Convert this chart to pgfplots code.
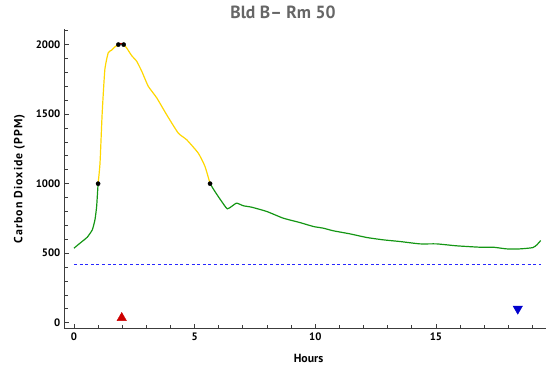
\documentclass[border=0pt]{standalone}
\usepackage{pgfplots}
\pgfplotsset{compat=1.18}
\usepackage{fontspec}
\setmainfont{PT Sans}
\newfontfamily\ylfont[LetterSpace=9]{PT Sans}
\definecolor{cgreen}{RGB}{20,150,20}
\definecolor{cyellow}{RGB}{255,215,0}
\definecolor{cblue}{RGB}{40,40,255}
\definecolor{cred}{RGB}{205,0,0}
\definecolor{cdblue}{RGB}{0,0,205}
\definecolor{axgray}{RGB}{60,60,60}
\definecolor{titlegray}{RGB}{102,102,102}
\begin{document}
\begin{tikzpicture}[x=1pt,y=1pt]
\useasboundingbox (0,0) rectangle (546,367);
\begin{axis}[
  at={(64.3pt,38.7pt)}, anchor=south west,
  scale only axis, width=481.7pt, height=299pt,
  xmin=-0.4, xmax=19.56, ymin=-40, ymax=2110,
  axis lines=left, axis line style={-, axgray, line width=1pt},
  xtick={0,5,10,15}, minor xtick={1,2,3,4,6,7,8,9,11,12,13,14,16,17,18,19},
  ytick={0,500,1000,1500,2000}, minor ytick={100,200,300,400,600,700,800,900,1100,1200,1300,1400,1600,1700,1800,1900,2100},
  tick align=inside, major tick length=4.5pt, minor tick length=3.5pt,
  tick style={axgray, line width=0.8pt},
  /pgf/number format/assume math mode=true,
  /pgf/number format/1000 sep={},
  ticklabel style={font=\bfseries\fontsize{10.8}{12}\selectfont, black},
  xticklabel style={yshift=-1pt},
  yticklabel style={xshift=-0.5pt},
  xlabel={Hours}, ylabel={Carbon Dioxide (PPM)},
  xlabel style={at={(axis description cs:0.507,-0.1)}, anchor=center, font=\bfseries\fontsize{11.8}{13}\selectfont},
  ylabel style={at={(axis description cs:-0.093,0.5)}, anchor=center, rotate=0, font=\ylfont\bfseries\fontsize{11.8}{13}\selectfont},
  title={Bld B-- Rm 50},
  title style={at={(axis description cs:0.454,1.035)}, anchor=center, font=\bfseries\fontsize{17.6}{19}\selectfont, text=titlegray},
  clip=false,
]
% threshold line
\addplot[cblue, line width=1.1pt, dash pattern=on 3pt off 2.6pt] coordinates {(0,421) (19.34,421)};
% green start
\addplot[cgreen, line width=1.2pt, smooth, tension=0.3] coordinates {
(0,536) (0.25,572) (0.55,615) (0.76,668) (0.87,740) (0.94,836) (1.0,1000)};
% yellow
\addplot[cyellow, line width=1.2pt, smooth, tension=0.3] coordinates {
(1.0,1000) (1.08,1148) (1.17,1508) (1.28,1820) (1.42,1941) (1.56,1960) (1.70,1984) (1.84,2000)};
\addplot[cred, line width=1.2pt] coordinates {(1.84,2000) (1.95,2008) (2.06,2000)};
\addplot[cyellow, line width=1.2pt, smooth, tension=0.3] coordinates {
(2.06,2000) (2.18,1977) (2.39,1921) (2.60,1880) (2.81,1808) (3.08,1700) (3.43,1617) (3.84,1496) (4.32,1364) (4.67,1316) (5.15,1220) (5.43,1124) (5.64,1000)};
% green end
\addplot[cgreen, line width=1.2pt, smooth, tension=0.3] coordinates {
(5.64,1000) (5.84,944) (6.12,872) (6.35,819) (6.53,836) (6.74,860) (7.02,841) (7.36,831) (7.99,800) (8.67,752) (9.37,720) (9.92,692) (10.33,680) (10.75,661) (11.44,639) (12.13,613) (12.82,596) (13.51,584) (14.34,567) (15.03,567) (15.86,553) (16.83,543) (17.38,543) (17.93,531) (18.48,531) (19.01,540) (19.18,560) (19.34,591)};
% dots
\addplot[only marks, mark=*, mark size=2.1pt, black] coordinates {(1.0,1000) (1.84,2000) (2.06,2000) (5.64,1000)};
% triangles
\addplot[only marks, mark=triangle*, mark size=5.4pt, cred] coordinates {(1.98,35)};
\addplot[only marks, mark=triangle*, mark size=5.4pt, cdblue, mark options={rotate=180}] coordinates {(18.39,100)};
\end{axis}
\end{tikzpicture}
\end{document}
